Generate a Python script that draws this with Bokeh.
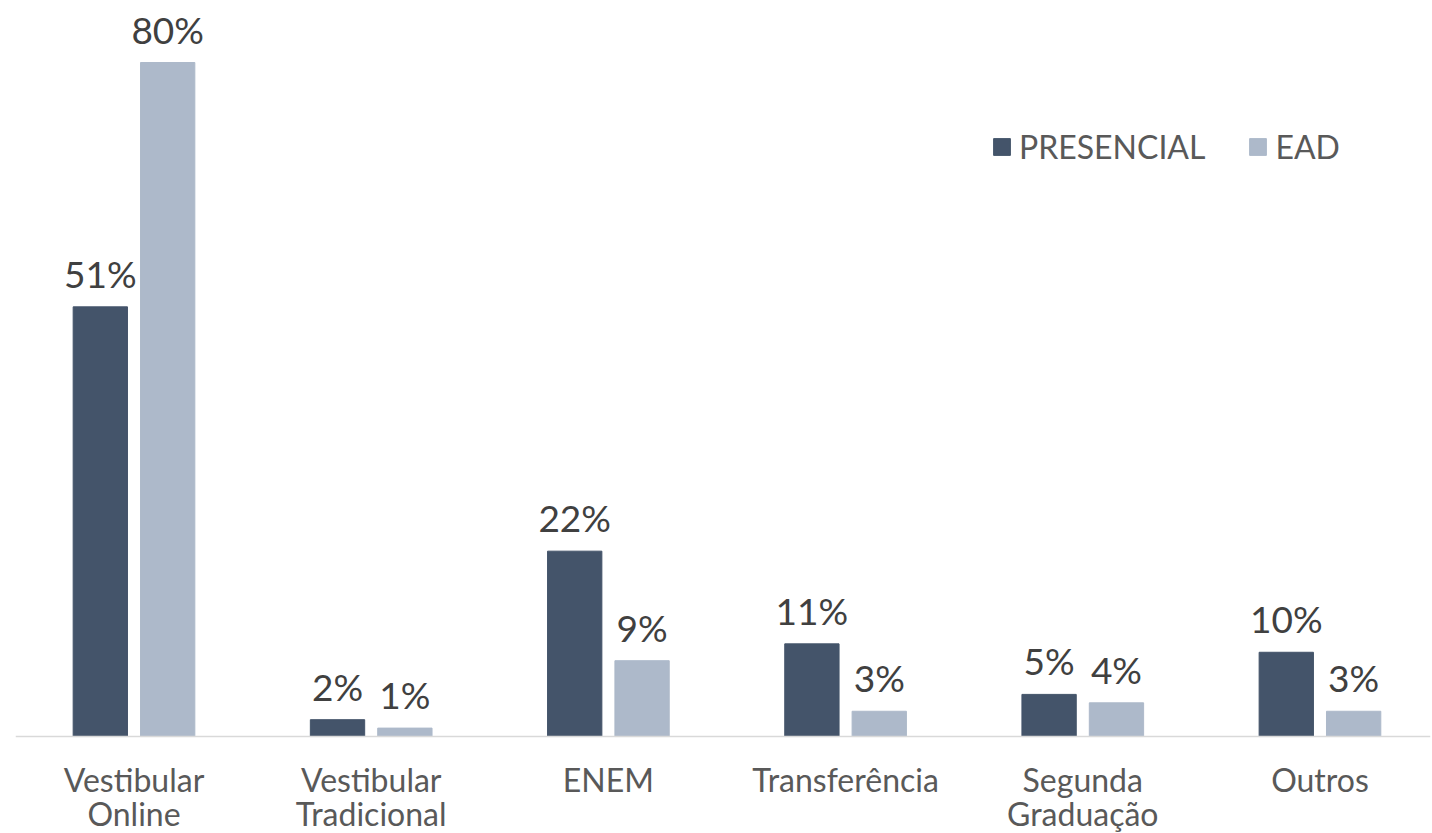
from bokeh.plotting import figure
from bokeh.models import ColumnDataSource, Legend, LegendItem, LabelSet, Span
from bokeh.core.properties import value
from bokeh.embed import file_html
from bokeh.resources import INLINE

categories = ["Vestibular\nOnline", "Vestibular\nTradicional", "ENEM", "Transferência", "Segunda\nGraduação", "Outros"]
presencial = [51, 2, 22, 11, 5, 10]
ead = [80, 1, 9, 3, 4, 3]
series_names = ["PRESENCIAL", "EAD"]
colors = ["#44546A", "#ADB9CA"]

xs = list(range(len(categories)))
off = 0.142
bw = 0.229

p = figure(width=1432, height=833, output_backend="svg", toolbar_location=None,
           x_range=(-0.4996, 5.466), y_range=(-11.51, 87.36),
           min_border_left=15, min_border_right=2, min_border_top=0, min_border_bottom=0)

src1 = ColumnDataSource(dict(x=[x - off for x in xs], top=presencial,
                             lab=[f"{v}%" for v in presencial]))
src2 = ColumnDataSource(dict(x=[x + off for x in xs], top=ead,
                             lab=[f"{v}%" for v in ead]))
r1 = p.vbar(x="x", top="top", bottom=0, width=bw, source=src1, color=colors[0])
r2 = p.vbar(x="x", top="top", bottom=0, width=bw, source=src2, color=colors[1])

for s in (src1, src2):
    p.add_layout(LabelSet(x="x", y="top", text="lab", source=s, y_offset=19,
                          text_align="center", text_baseline="alphabetic",
                          text_font=value("Lato"), text_font_size="37px", text_color="#404040"))

# category labels (two lines max) below the baseline
line1 = [c.split("\n")[0] for c in categories]
line2 = [c.split("\n")[1] if "\n" in c else "" for c in categories]
cat_src = ColumnDataSource(dict(x=xs, y=[0] * len(xs), l1=line1, l2=line2))
for field, yo in (("l1", -55), ("l2", -89)):
    p.add_layout(LabelSet(x="x", y="y", text=field, source=cat_src, y_offset=yo,
                          text_align="center", text_baseline="alphabetic",
                          text_font=value("Lato"), text_font_size="32px", text_color="#595959"))

p.add_layout(Span(location=0, dimension="width", line_color="#D9D9D9", line_width=1.5))

p.xaxis.visible = False
p.yaxis.visible = False
p.xgrid.grid_line_color = None
p.ygrid.grid_line_color = None
p.outline_line_color = None

legend = Legend(items=[LegendItem(label=series_names[0], renderers=[r1]),
                       LegendItem(label=series_names[1], renderers=[r2])],
                orientation="horizontal", location=(976, 667),
                label_text_font="Lato", label_text_font_size="32px", label_text_color="#595959",
                glyph_width=21, glyph_height=21, label_standoff=7, spacing=42,
                padding=0, margin=0, border_line_alpha=0, background_fill_alpha=0)
p.add_layout(legend, "center")

open("out.html", "w").write(file_html(p, INLINE))
